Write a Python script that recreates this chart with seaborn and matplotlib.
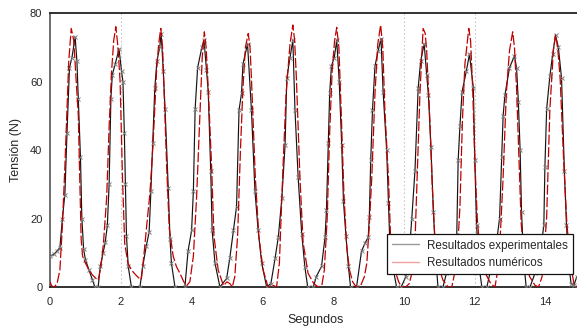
import numpy as np
import pandas as pd
import matplotlib
matplotlib.use("Agg")
import matplotlib.pyplot as plt
from matplotlib.lines import Line2D
import seaborn as sns

# Experimental results (time s, tension N)
exp_t = [0.00, 0.10, 0.20, 0.28, 0.35, 0.42, 0.48, 0.55, 0.62, 0.71, 0.76, 0.80, 0.86, 0.90, 0.95, 1.00,
         1.10, 1.20, 1.27, 1.36, 1.42, 1.50, 1.56, 1.62, 1.67, 1.72, 1.76, 1.84, 1.95, 2.02, 2.06, 2.10,
         2.13, 2.16, 2.21, 2.30, 2.54, 2.62, 2.72, 2.80, 2.85, 2.90, 2.96, 3.02, 3.10, 3.14, 3.20, 3.25,
         3.34, 3.39, 3.43, 3.53, 3.81, 3.90, 4.00, 4.05, 4.10, 4.17, 4.29, 4.35, 4.42, 4.47, 4.54, 4.58,
         4.66, 4.80, 4.99, 5.08, 5.18, 5.27, 5.34, 5.41, 5.45, 5.58, 5.69, 5.79, 5.88, 5.98, 6.12, 6.24,
         6.36, 6.45, 6.55, 6.64, 6.69, 6.78, 6.86, 6.92, 7.01, 7.11, 7.20, 7.28, 7.44, 7.52, 7.67, 7.77,
         7.81, 7.86, 7.90, 7.95, 8.03, 8.10, 8.17, 8.24, 8.29, 8.36, 8.43, 8.49, 8.66, 8.80, 8.90, 8.99,
         9.02, 9.06, 9.11, 9.18, 9.27, 9.35, 9.41, 9.51, 9.56, 9.60, 9.70, 9.79, 9.92, 10.05, 10.15, 10.22,
         10.31, 10.40, 10.47, 10.57, 10.64, 10.69, 10.76, 10.83, 10.90, 10.96, 11.10, 11.20, 11.35, 11.49,
         11.53, 11.58, 11.64, 11.76, 11.85, 11.96, 12.00, 12.05, 12.12, 12.20, 12.34, 12.45, 12.60, 12.70,
         12.76, 12.80, 12.85, 12.98, 13.12, 13.18, 13.23, 13.28, 13.32, 13.38, 13.45, 13.56, 13.70, 13.85,
         13.95, 13.98, 14.03, 14.12, 14.20, 14.28, 14.36, 14.45, 14.53, 14.59, 14.66, 14.72, 14.80, 14.88,
         15.00]
exp_v = [9.0, 9.5, 10.5, 11.5, 20, 27, 45, 64, 67, 73, 66, 55, 38, 20, 11, 8,
         5, 2, 0, 0, 6, 10, 13, 18, 30, 55, 62, 65, 69.5, 63, 60, 45,
         30, 15, 6, 0, 0, 6, 12, 16, 28, 42, 58, 66, 70, 74, 63, 52,
         29, 14, 7, 0, 0, 10.5, 16.5, 28, 52, 64, 70, 72, 63.5, 57, 34, 16.5,
         7, 0, 2.5, 8.5, 16.5, 23.5, 51.7, 56.5, 65, 71, 51.7, 28, 16.5, 7, 0, 1,
         8.5, 14.6, 26, 41.5, 61, 67, 72, 51.7, 32, 15.6, 5.8, 0, 0, 3, 6, 14.6,
         22.5, 42, 56.5, 64.5, 67, 72, 60, 41.5, 25, 15, 6, 0, 0, 10.5, 12.8, 14.6,
         20.5, 37, 51.7, 64.5, 69, 72.5, 57, 40, 24.5, 12.8, 5, 0, 0, 3, 10, 20,
         34, 58, 66, 71, 62, 56, 41, 22, 8, 0, 0, 4, 10, 15,
         37, 47, 57, 63, 68, 58, 37, 18, 6, 0, 0, 5, 12, 20,
         38, 50, 56, 64, 67.5, 64, 54, 40, 22, 8, 0, 0, 4, 10,
         18, 35, 52, 61.5, 68, 73.5, 70, 61, 34, 18, 6, 1, 0.5, 3,
         3]

# Numerical results (time s, tension N)
num_t = [0.00, 0.05, 0.12, 0.20, 0.28, 0.35, 0.42, 0.48, 0.53, 0.60, 0.67, 0.74, 0.80, 0.85, 0.88, 0.92,
         1.00, 1.10, 1.20, 1.30, 1.36, 1.44, 1.51, 1.60, 1.67, 1.74, 1.80, 1.86, 1.92, 1.98, 2.05, 2.11,
         2.20, 2.30, 2.38, 2.50, 2.58, 2.65, 2.73, 2.82, 2.91, 3.01, 3.07, 3.13, 3.18, 3.22, 3.30, 3.37,
         3.48, 3.57, 3.67, 3.78, 3.86, 3.95, 4.05, 4.14, 4.24, 4.30, 4.36, 4.41, 4.47, 4.57, 4.63, 4.75,
         4.90, 5.00, 5.08, 5.15, 5.22, 5.30, 5.38, 5.45, 5.52, 5.60, 5.65, 5.69, 5.80, 5.90, 6.02, 6.16,
         6.30, 6.40, 6.48, 6.57, 6.67, 6.78, 6.86, 6.91, 6.96, 7.06, 7.15, 7.29, 7.45, 7.58, 7.68, 7.75,
         7.83, 7.90, 7.97, 8.04, 8.10, 8.16, 8.23, 8.30, 8.38, 8.46, 8.55, 8.65, 8.78, 8.88, 8.95, 9.02,
         9.09, 9.18, 9.26, 9.34, 9.40, 9.46, 9.56, 9.62, 9.74, 9.85, 9.93, 10.05, 10.15, 10.22, 10.31, 10.37,
         10.45, 10.54, 10.60, 10.64, 10.73, 10.80, 10.87, 10.98, 11.10, 11.25, 11.35, 11.45, 11.52, 11.58,
         11.65, 11.72, 11.83, 11.88, 11.94, 12.00, 12.07, 12.15, 12.30, 12.45, 12.57, 12.65, 12.72, 12.80,
         12.89, 12.98, 13.07, 13.12, 13.18, 13.25, 13.31, 13.40, 13.55, 13.70, 13.80, 13.90, 13.96, 14.03,
         14.12, 14.22, 14.28, 14.34, 14.41, 14.51, 14.60, 14.70, 14.80, 14.88, 14.95, 15.00]
num_v = [1.5, 0.3, 0, 1, 5, 18, 35, 52, 66, 75.5, 72, 60, 50, 28, 14, 9,
         7, 5, 3.5, 2.5, 2, 6, 12.8, 26, 46.7, 63, 72, 76, 70, 60, 31, 12.8,
         7, 5, 4, 2.7, 2.2, 9, 17.8, 27, 41.5, 63, 71, 75.5, 70, 58, 34, 17,
         9, 6, 4, 1.5, 0.4, 1.5, 9, 26, 51.7, 67, 74.5, 70, 58, 34, 15, 5,
         0.4, 1.5, 1, 0, 3, 15, 40, 58, 70, 74, 70, 61, 32, 14.8, 5, 0,
         0.5, 0, 7, 32, 56.5, 71, 76.5, 72, 61, 32, 13, 4, 1, 0, 0.5, 5,
         20, 45, 63, 72, 75.8, 70, 50, 28, 12, 5, 1.5, 0, 0.5, 3, 7, 18,
         32, 56.5, 71, 76.5, 70, 51.7, 32, 14.8, 5, 1.5, 0, 0, 1, 4, 13, 32,
         56.5, 75.5, 74, 69, 49, 29, 14.7, 6, 2, 0, 0, 5, 12, 23.5,
         48.5, 65, 75.5, 72, 58, 37, 20, 10, 4, 1, 0, 5, 15, 32,
         56.5, 69, 74.5, 70, 58, 37, 18.6, 8, 3, 0.5, 0, 3, 10, 20.5,
         51.7, 69, 73.6, 70, 61, 37, 18.6, 7, 1, 0, 1, 2]

x_ticks = [0, 2, 4, 6, 8, 10, 12, 14]
y_ticks = [0, 20, 40, 60, 80]
grid_x = [2, 10, 12]
labels = ["Resultados experimentales", "Resultados numéricos"]

exp_df = pd.DataFrame({"t": exp_t, "v": exp_v})
num_df = pd.DataFrame({"t": num_t, "v": num_v})

sns.set_style("white")
plt.rcParams["font.family"] = ["Liberation Sans", "DejaVu Sans"]

fig = plt.figure(figsize=(5.77, 3.29), dpi=100)
ax = fig.add_axes([50 / 577, 1 - 287 / 329, 531 / 577, 274 / 329])

for gx in grid_x:
    ax.axvline(gx, color="#c8c8c8", lw=0.8, ls=(0, (1.5, 2)), zorder=0)

sns.lineplot(data=exp_df, x="t", y="v", ax=ax, color="#151515", lw=0.85,
             marker="x", markersize=3.2, markeredgecolor="#808080", markeredgewidth=0.7,
             estimator=None, sort=False, zorder=3)
sns.lineplot(data=num_df, x="t", y="v", ax=ax, color="#c00000", lw=0.9,
             estimator=None, sort=False, zorder=4, dashes=False)
ax.lines[-1].set_dashes([8, 2])

ax.set_xlim(0, 15)
ax.set_ylim(0, 80)
ax.set_xticks(x_ticks)
ax.set_yticks(y_ticks)
ax.tick_params(axis="both", labelsize=8, length=3, width=0.8, color="#444444", direction="inout")
ax.tick_params(axis="x", pad=6)
ax.tick_params(axis="y", pad=4)
ax.set_xlabel("Segundos", fontsize=9, labelpad=5)
ax.set_ylabel("Tensión (N)", fontsize=9, labelpad=6)

for s in ["top", "bottom"]:
    ax.spines[s].set_color("#222222")
    ax.spines[s].set_linewidth(1.3)
ax.spines["left"].set_color("#555555")
ax.spines["left"].set_linewidth(1.2)
ax.spines["right"].set_visible(False)

handles = [Line2D([], [], color="#9a9a9a", lw=1.0),
           Line2D([], [], color="#f2a0a0", lw=1.0)]
leg = ax.legend(handles, labels, loc="lower right", bbox_to_anchor=(1.0 - 8 / 531, 13 / 274),
                fontsize=8.4, frameon=True, fancybox=False, framealpha=1, edgecolor="#111111",
                borderpad=0.45, labelspacing=0.45, handlelength=2.3, handletextpad=0.7,
                borderaxespad=0)
leg.get_frame().set_linewidth(0.9)

fig.savefig("out.png", dpi=100)
